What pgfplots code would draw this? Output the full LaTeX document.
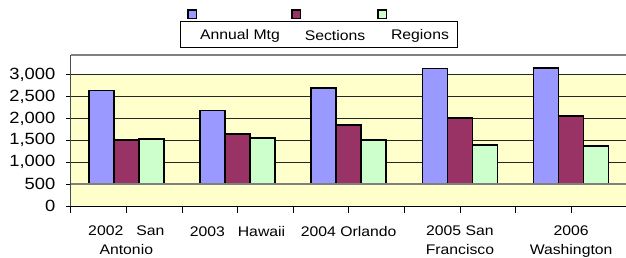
\documentclass[border=0pt]{standalone}
\usepackage{fontspec}
\setmainfont{Liberation Sans}[FakeStretch=1.13]
\usepackage{pgfplots}
\pgfplotsset{compat=1.18}
\definecolor{cA}{HTML}{9999FF}
\definecolor{cS}{HTML}{993366}
\definecolor{cR}{HTML}{CCFFCC}
\definecolor{wall}{HTML}{FFFFCC}
\begin{document}
\begin{tikzpicture}[x=1bp,y=1bp]
\begin{axis}[
  set layers,
  at={(70.7bp,51bp)}, anchor=south west,
  width=556bp, height=151bp, scale only axis,
  xmin=-0.5, xmax=4.5, ymin=0, ymax=3450,
  axis x line=bottom, axis y line=left,
  x axis line style={-, black, line width=0.8bp},
  y axis line style={-, black!70, line width=0.8bp},
  tick align=outside,
  xtick={-0.5,0.5,...,4.5}, xticklabels={},
  xtick style={black, line width=0.8bp, /pgfplots/major tick length=7bp},
  extra x ticks={0,1,2,3,4},
  extra x tick labels={{2002\hspace{13bp}San\\Antonio},{2003\hspace{13bp}Hawaii},{2004 Orlando},{2005 San\\Francisco},{2006\\Washington}},
  extra x tick style={/pgfplots/major tick length=0pt, grid=none},
  xticklabel style={anchor=north, align=center, inner sep=0pt, font=\fontsize{14}{19}\selectfont, yshift=-20bp},
  ytick={0,500,...,3000},
  yticklabels={0,500,{1,000},{1,500},{2,000},{2,500},{3,000}},
  ytick style={black, line width=0.8bp, /pgfplots/major tick length=4.5bp},
  yticklabel style={anchor=east, inner sep=0pt, font=\fontsize{16.3}{18}\selectfont, xshift=-11bp},
  ymajorgrids,
  grid style={black!85, line width=0.8bp},
  ybar=0pt, bar width=0.225,
  clip=false,
]
\begin{pgfonlayer}{axis background}
\fill[wall] (axis cs:-0.5,0) rectangle (axis cs:4.5,3000);
\end{pgfonlayer}
\addplot[fill=cA, draw=black, line width=1.5bp] coordinates {(0,2641) (1,2183) (2,2696) (3,3138) (4,3153)};
\addplot[fill=cS, draw=black, line width=1.5bp] coordinates {(0,1512) (1,1649) (2,1855) (3,2009) (4,2061)};
\addplot[fill=cR, draw=black, line width=1.5bp] coordinates {(0,1535) (1,1557) (2,1512) (3,1390) (4,1374)};
\fill[wall] (axis cs:-0.49,-25) rectangle (axis cs:4.5,500);
\draw[black, line width=0.8bp] (axis cs:-0.5,0) -- (axis cs:4.5,0);
\draw[gray, line width=2bp] (axis cs:-0.5,500) -- (axis cs:4.5,500);
\draw[gray, line width=1.5bp] (axis cs:-0.5,3450) -- (axis cs:4.5,3450);
\end{axis}
% legend
\draw[black, line width=0.8bp] (180,210) rectangle (457,235.3);
\node[font=\fontsize{14}{16}\selectfont, inner sep=0pt] at (240,221.5) {Annual Mtg};
\node[font=\fontsize{14}{16}\selectfont, inner sep=0pt] at (335,221.5) {Sections};
\node[font=\fontsize{14}{16}\selectfont, inner sep=0pt] at (420,221.5) {Regions};
\filldraw[fill=cA, draw=black, line width=1.5bp] (188,238.5) rectangle (196.5,247);
\filldraw[fill=cS, draw=black, line width=1.5bp] (292,238.5) rectangle (300.5,247);
\filldraw[fill=cR, draw=black, line width=1.5bp] (378,238.5) rectangle (386.5,247);
\pgfresetboundingbox
\useasboundingbox (0,0) rectangle (626,257);
\end{tikzpicture}
\end{document}
